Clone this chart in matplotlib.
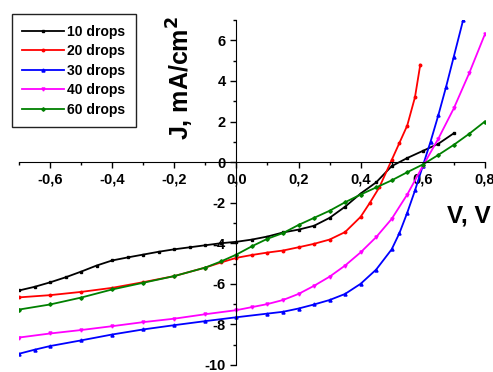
import numpy as np
import matplotlib.pyplot as plt
from matplotlib.ticker import FuncFormatter, MultipleLocator

plt.rcParams['font.family'] = ['Liberation Sans', 'DejaVu Sans']
plt.rcParams['font.weight'] = 'bold'

# voltage (V) and current density (mA/cm2)
v10 = [-0.7, -0.65, -0.6, -0.55, -0.5, -0.45, -0.4, -0.35, -0.3, -0.25, -0.2, -0.15,
       -0.1, -0.05, 0.0, 0.05, 0.1, 0.15, 0.2, 0.25, 0.3, 0.35, 0.4, 0.45, 0.5,
       0.55, 0.6, 0.65, 0.7]
j10 = [-6.33, -6.15, -5.93, -5.68, -5.4, -5.1, -4.85, -4.7, -4.56, -4.42, -4.3, -4.2,
       -4.1, -4.0, -3.93, -3.82, -3.67, -3.47, -3.33, -3.14, -2.75, -2.2, -1.55, -1.0,
       -0.2, 0.2, 0.55, 0.9, 1.42]

v20 = [-0.7, -0.6, -0.5, -0.4, -0.3, -0.2, -0.1, -0.05, 0.0, 0.05, 0.1, 0.15, 0.2,
       0.25, 0.3, 0.35, 0.4, 0.43, 0.46, 0.5, 0.525, 0.55, 0.575, 0.592]
j20 = [-6.67, -6.56, -6.4, -6.2, -5.92, -5.62, -5.2, -4.95, -4.72, -4.58, -4.46, -4.36,
       -4.2, -4.03, -3.82, -3.45, -2.7, -2.0, -1.25, 0.1, 0.95, 1.8, 3.2, 4.8]

v30 = [-0.7, -0.65, -0.6, -0.5, -0.4, -0.3, -0.2, -0.1, 0.0, 0.1, 0.15, 0.2, 0.25,
       0.3, 0.35, 0.4, 0.45, 0.5, 0.525, 0.55, 0.575, 0.6, 0.625, 0.65, 0.675, 0.7,
       0.73]
j30 = [-9.45, -9.25, -9.07, -8.79, -8.5, -8.25, -8.04, -7.84, -7.65, -7.47, -7.38,
       -7.22, -7.02, -6.8, -6.5, -6.0, -5.3, -4.3, -3.5, -2.5, -1.4, -0.2, 1.0, 2.3,
       3.7, 5.2, 7.0]

v40 = [-0.7, -0.6, -0.5, -0.4, -0.3, -0.2, -0.1, 0.0, 0.05, 0.1, 0.15, 0.2, 0.25,
       0.3, 0.35, 0.4, 0.45, 0.5, 0.55, 0.6, 0.65, 0.7, 0.75, 0.8]
j40 = [-8.65, -8.45, -8.28, -8.09, -7.89, -7.72, -7.5, -7.3, -7.15, -7.0, -6.8, -6.5,
       -6.1, -5.65, -5.1, -4.45, -3.7, -2.8, -1.6, -0.2, 1.15, 2.65, 4.4, 6.3]

v60 = [-0.7, -0.6, -0.5, -0.4, -0.3, -0.2, -0.1, -0.05, 0.0, 0.05, 0.1, 0.15, 0.2,
       0.25, 0.3, 0.35, 0.4, 0.45, 0.5, 0.55, 0.6, 0.65, 0.7, 0.75, 0.8]
j60 = [-7.27, -7.02, -6.68, -6.28, -5.95, -5.62, -5.2, -4.9, -4.56, -4.15, -3.78,
       -3.5, -3.1, -2.75, -2.4, -1.98, -1.6, -1.25, -0.9, -0.5, -0.12, 0.35, 0.85,
       1.4, 2.0]

fig = plt.figure(figsize=(4.93, 3.72), dpi=100)
ax = fig.add_axes([0.0385, 0.019, 0.945, 0.927])

ax.plot(v10, j10, '-s', color='black', ms=1.8, lw=1.3, label='10 drops')
ax.plot(v20, j20, '-o', color='red', ms=1.8, lw=1.3, label='20 drops')
ax.plot(v30, j30, '-^', color='blue', ms=2.2, lw=1.3, label='30 drops')
ax.plot(v40, j40, '-v', color='magenta', ms=2.2, lw=1.3, label='40 drops')
ax.plot(v60, j60, '-D', color='green', ms=1.8, lw=1.3, label='60 drops')

ax.set_xlim(-0.7, 0.8)
ax.set_ylim(-10, 7)
ax.spines['left'].set_position(('data', 0))
ax.spines['bottom'].set_position(('data', 0))
ax.spines['top'].set_visible(False)
ax.spines['right'].set_visible(False)

ax.xaxis.set_major_locator(MultipleLocator(0.2))
ax.xaxis.set_minor_locator(MultipleLocator(0.1))
ax.yaxis.set_major_locator(MultipleLocator(2))
ax.yaxis.set_minor_locator(MultipleLocator(1))
ax.xaxis.set_major_formatter(FuncFormatter(lambda x, p: f'{x:.1f}'.replace('.', ',').replace('-0,0', '0,0')))
ax.yaxis.set_major_formatter(FuncFormatter(lambda y, p: f'{y:.0f}'))
ax.tick_params(axis='both', which='major', labelsize=10.5, length=4, width=1)
ax.tick_params(axis='both', which='minor', length=2.5, width=1)
for t in ax.get_xticklabels() + ax.get_yticklabels():
    t.set_fontweight('bold')

fig.text(0.365, 0.624, 'J, mA/cm$^\\mathbf{2}$', rotation=90, fontsize=18,
         fontweight='bold', ha='center', va='bottom')
fig.text(0.906, 0.42, 'V, V', fontsize=17.5, fontweight='bold', ha='left', va='center')

leg = ax.legend(loc='upper left', bbox_to_anchor=(0.024, 0.962, 0.0, 0.0),
                bbox_transform=fig.transFigure, fancybox=False, edgecolor='#222222',
                framealpha=1, handlelength=3.0, handletextpad=0.25, labelspacing=0.4,
                prop={'weight': 'bold', 'size': 10}, borderpad=0.75, borderaxespad=0)
leg.get_frame().set_linewidth(1)

plt.savefig('out.png', dpi=100)
